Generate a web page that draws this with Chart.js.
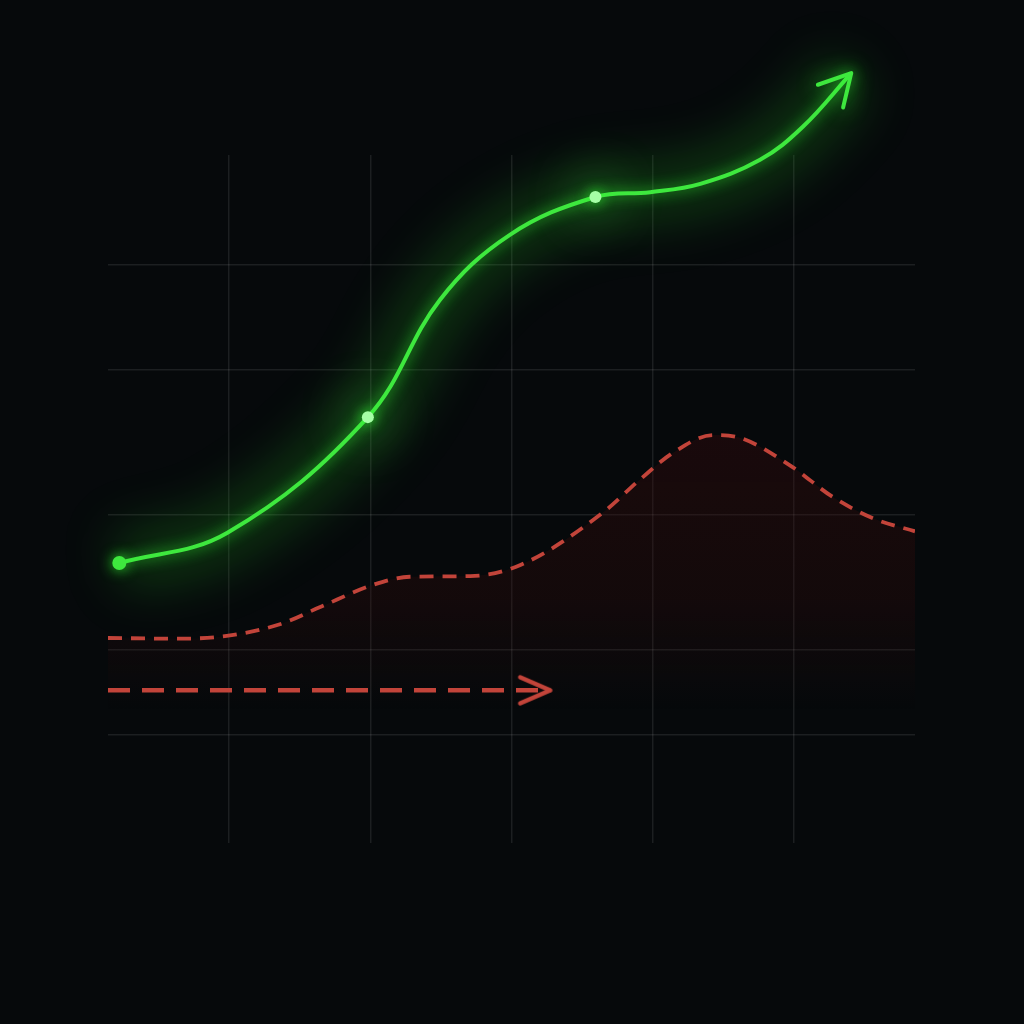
<!DOCTYPE html>
<html>
<head>
<meta charset="utf-8">
<script src="https://cdn.jsdelivr.net/npm/chart.js@4.4.1/dist/chart.umd.min.js"></script>
<style>
  html, body { margin: 0; padding: 0; background: #06090b; }
  #wrap { width: 1024px; height: 1024px; }
</style>
</head>
<body>
<div id="wrap"><canvas id="chart" width="1024" height="1024"></canvas></div>
<script>
  // grid positions (x 0..100, y 0..100)
  const xGrid = [15, 32.5, 50, 67.5, 85];
  const yGrid = [15.7, 28.1, 47.7, 68.8, 84];

  // rising green line
  const greenX = [1.4, 14.8, 32.2, 41.1, 49.8, 60.4, 67.2, 73.4, 80.8, 86.1, 92.1];
  const greenY = [40.7, 45.1, 61.9, 78.9, 88.4, 93.9, 94.6, 95.8, 99.3, 104.1, 111.9];

  // red dashed curve with fill
  const redX = [0, 8.6, 14.7, 21.3, 26.3, 32.8, 37.4, 44.9, 51.1, 61.3, 65.9, 70.0, 75.0, 78.3, 84.5, 89.8, 94.8, 100];
  const redY = [29.8, 29.7, 30.1, 31.8, 34.3, 37.5, 38.7, 38.8, 40.4, 48.0, 52.8, 56.7, 59.3, 58.9, 54.9, 50.3, 47.2, 45.3];

  // flat red arrow
  const arrowX = [0, 54.8];
  const arrowY = [22.2, 22.2];

  const GREEN = "#3ee83e";
  const RED = "#c2443a";

  function chevron(color, len, half, width) {
    const c = document.createElement("canvas");
    const s = Math.ceil(len * 2 + width * 2);
    c.width = s;
    c.height = s;
    const g = c.getContext("2d");
    g.strokeStyle = color;
    g.lineWidth = width;
    g.lineCap = "round";
    g.lineJoin = "round";
    g.beginPath();
    g.moveTo(s / 2 - len, s / 2 - half);
    g.lineTo(s / 2, s / 2);
    g.lineTo(s / 2 - len, s / 2 + half);
    g.stroke();
    return c;
  }

  const redHead = chevron(RED, 30, 13, 4.5);

  const pts = (xs, ys) => xs.map((x, i) => ({ x, y: ys[i] }));

  const dotIdx = [2, 5];
  const greenRadius = greenX.map((_, i) => (i === 0 ? 7 : dotIdx.includes(i) ? 6 : 0));
  const greenFill = greenX.map((_, i) => (dotIdx.includes(i) ? "#a6ffa6" : GREEN));
  const hazeRadius = greenX.map((_, i) => (dotIdx.includes(i) ? 13 : 0));

  const glow = {
    id: "glow",
    beforeDatasetDraw(chart, args) {
      const ds = chart.data.datasets[args.index];
      if (!ds.glowColor && !ds.blur) return;
      const ctx = chart.ctx;
      ctx.save();
      if (ds.blur) ctx.filter = `blur(${ds.blur}px)`;
      if (ds.glowColor) {
        ctx.shadowColor = ds.glowColor;
        ctx.shadowBlur = ds.glowBlur;
      }
    },
    afterDatasetDraw(chart, args) {
      const ds = chart.data.datasets[args.index];
      if (!ds.glowColor && !ds.blur) return;
      chart.ctx.restore();
    },
  };

  // open arrow head at the end of a line, aimed along the last curve segment
  const arrowHead = {
    id: "arrowHead",
    afterDatasetsDraw(chart) {
      chart.data.datasets.forEach((ds, i) => {
        if (!ds.headLength) return;
        const meta = chart.getDatasetMeta(i);
        const p = meta.data[meta.data.length - 1];
        const q = meta.data[meta.data.length - 2];
        const cx = p.cp1x ?? q.x;
        const cy = p.cp1y ?? q.y;
        const a = Math.atan2(p.y - cy, p.x - cx);
        const ctx = chart.ctx;
        ctx.save();
        ctx.shadowColor = ds.glowColor || "transparent";
        ctx.shadowBlur = 20;
        ctx.translate(p.x, p.y);
        ctx.rotate(a);
        ctx.strokeStyle = ds.borderColor;
        ctx.lineWidth = ds.borderWidth;
        ctx.lineCap = "round";
        ctx.lineJoin = "round";
        ctx.beginPath();
        ctx.moveTo(-ds.headLength, -ds.headHalf);
        ctx.lineTo(0, 0);
        ctx.lineTo(-ds.headLength, ds.headHalf);
        ctx.stroke();
        ctx.restore();
      });
    },
  };

  new Chart(document.getElementById("chart"), {
    type: "scatter",
    data: {
      datasets: [
        {
          label: "area",
          data: pts(redX, redY),
          showLine: true,
          borderColor: RED,
          borderWidth: 3.8,
          borderDash: [14, 9],
          cubicInterpolationMode: "monotone",
          pointRadius: 0,
          fill: "start",
          backgroundColor(ctx) {
            const area = ctx.chart.chartArea;
            if (!area) return "rgba(90,20,20,0.2)";
            const g = ctx.chart.ctx.createLinearGradient(0, 430, 0, 710);
            g.addColorStop(0, "rgba(62,12,12,0.36)");
            g.addColorStop(0.6, "rgba(55,12,12,0.28)");
            g.addColorStop(1, "rgba(55,12,12,0)");
            return g;
          },
          order: 4,
        },
        {
          label: "arrow",
          data: pts(arrowX, arrowY),
          showLine: true,
          borderColor: RED,
          borderWidth: 4.5,
          borderDash: [22, 12],
          pointRadius: [0, 20],
          pointStyle: ["circle", redHead],
          order: 3,
        },
        {
          label: "rise haze",
          data: pts(greenX, greenY),
          showLine: true,
          borderColor: "rgba(40,220,40,0.22)",
          borderWidth: 56,
          tension: 0.38,
          pointRadius: hazeRadius,
          pointBackgroundColor: "rgba(90,255,90,0.7)",
          pointBorderWidth: 0,
          blur: 26,
          clip: false,
          order: 2,
        },
        {
          label: "rise",
          data: pts(greenX, greenY),
          showLine: true,
          borderColor: GREEN,
          borderWidth: 4,
          tension: 0.38,
          pointRadius: greenRadius,
          pointBackgroundColor: greenFill,
          pointBorderWidth: 0,
          glowColor: "rgba(50,255,50,0.85)",
          glowBlur: 14,
          headLength: 31,
          headHalf: 17,
          clip: false,
          order: 1,
        },
      ],
    },
    options: {
      responsive: false,
      animation: false,
      layout: { padding: { left: 108, top: 155, right: 109, bottom: 181 } },
      plugins: { legend: { display: false }, tooltip: { enabled: false } },
      scales: {
        x: {
          type: "linear",
          min: 0,
          max: 100,
          afterBuildTicks(axis) { axis.ticks = xGrid.map((v) => ({ value: v })); },
          ticks: { display: false },
          grid: { color: "rgba(255,255,255,0.09)", lineWidth: 1.5, drawTicks: false },
          border: { display: false },
        },
        y: {
          type: "linear",
          min: 0,
          max: 100,
          afterBuildTicks(axis) { axis.ticks = yGrid.map((v) => ({ value: v })); },
          ticks: { display: false },
          grid: { color: "rgba(255,255,255,0.09)", lineWidth: 1.5, drawTicks: false },
          border: { display: false },
        },
      },
    },
    plugins: [glow, arrowHead],
  });
</script>
</body>
</html>
